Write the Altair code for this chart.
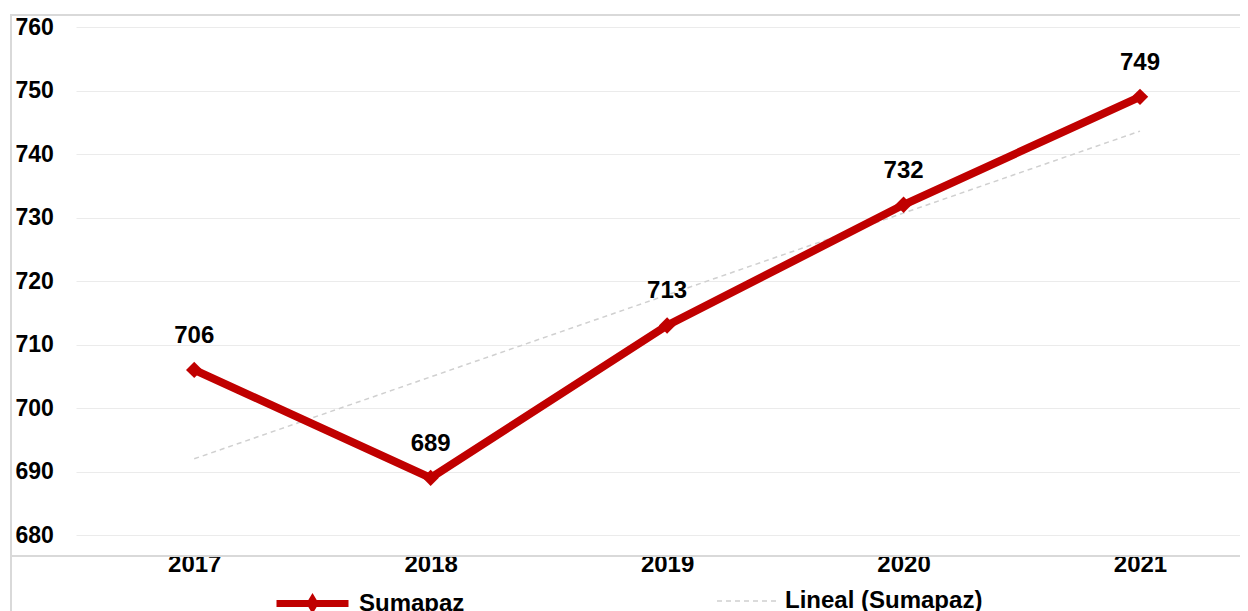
import altair as alt
import pandas as pd

years = [2017, 2018, 2019, 2020, 2021]
values = [706, 689, 713, 732, 749]
series_name = "Sumapaz"
trend_name = "Lineal (Sumapaz)"
y_ticks = [680, 690, 700, 710, 720, 730, 740, 750, 760]

df = pd.DataFrame({"year": years, "value": values, "serie": series_name})

RED = "#C00000"
GRAY = "#D0D0D0"
FRAME = "#D9D9D9"
FONT = "Liberation Sans"
FS = 24

W, H = 1164, 508

xscale = alt.Scale(domain=[2016.5, 2021.423], nice=False, zero=False)
yscale = alt.Scale(domain=[680, 760], nice=False, zero=False)

x_axis = alt.Axis(values=years, format="d", labelFont=FONT, labelFontSize=FS,
                  labelFontWeight="bold", labelColor="black", grid=False,
                  domain=False, ticks=False, tickSize=0, labelPadding=17, title=None)
y_axis = alt.Axis(values=y_ticks, labelFont=FONT, labelFontSize=23,
                  labelFontWeight="bold", labelColor="black", labelAlign="left",
                  labelBaseline="middle", labelPadding=61, grid=True,
                  gridColor="#EBEBEB", gridWidth=1, domain=False, ticks=False,
                  tickSize=0, title=None)

X = alt.X("year:Q", scale=xscale, axis=x_axis)
Y = alt.Y("value:Q", scale=yscale, axis=y_axis)

sym_main = "M-1,0L1,0M0,-0.1L0.06,0L0,0.1L-0.06,0Z"

legend_main = alt.Legend(
    title=None, orient="none", legendX=197, legendY=537,
    symbolType=sym_main, symbolSize=5184, symbolFillColor=RED,
    symbolStrokeColor=RED, symbolStrokeWidth=7,
    labelFont=FONT, labelFontSize=FS, labelFontWeight="bold",
    labelColor="black", labelOffset=7, labelLimit=400, padding=0,
)
legend_trend = alt.Legend(
    title=None, orient="none", legendX=640, legendY=543,
    symbolType="stroke", symbolSize=3600, symbolFillColor="transparent",
    symbolStrokeColor=GRAY, symbolStrokeWidth=1.5,
    labelFont=FONT, labelFontSize=FS, labelFontWeight="bold",
    labelColor="black", labelOffset=7, labelLimit=400, padding=0,
)

base = alt.Chart(df)

frame_left = base.mark_rule(color=FRAME, strokeWidth=2).encode(
    x=alt.value(-65), y=alt.value(-12), y2=alt.value(H + 80))
frame_top = base.mark_rule(color=FRAME, strokeWidth=2).encode(
    x=alt.value(-66), x2=alt.value(W + 20), y=alt.value(-12))
frame_bottom = base.mark_rule(color=FRAME, strokeWidth=1.5).encode(
    x=alt.value(-65), x2=alt.value(W + 20), y=alt.value(H + 21))

trend = base.transform_regression("year", "value").transform_calculate(
    tserie=f"'{trend_name}'"
).mark_line(strokeWidth=1.5, color=GRAY).encode(
    x=X, y=Y,
    strokeDash=alt.StrokeDash("tserie:N", scale=alt.Scale(domain=[trend_name], range=[[5, 4]]),
                              legend=legend_trend),
)

line = base.mark_line(strokeWidth=8).encode(
    x=X, y=Y,
    color=alt.Color("serie:N", scale=alt.Scale(domain=[series_name], range=[RED]),
                    legend=legend_main),
)

points = base.mark_point(shape="diamond", filled=True, size=270, color=RED,
                         opacity=1).encode(x=X, y=Y)

labels = base.mark_text(dy=-34, font=FONT, fontSize=FS, fontWeight="bold",
                        color="black").encode(x=X, y=Y, text=alt.Text("value:Q"))

chart = alt.layer(frame_left, frame_top, frame_bottom, trend, line, points, labels).properties(
    width=W, height=H,
    autosize=alt.AutoSizeParams(type="none"),
    padding={"left": 68, "top": 19, "right": 0, "bottom": 76},
).configure_view(stroke=None)

chart.save("out.html", embed_options={"renderer": "svg", "actions": False})
